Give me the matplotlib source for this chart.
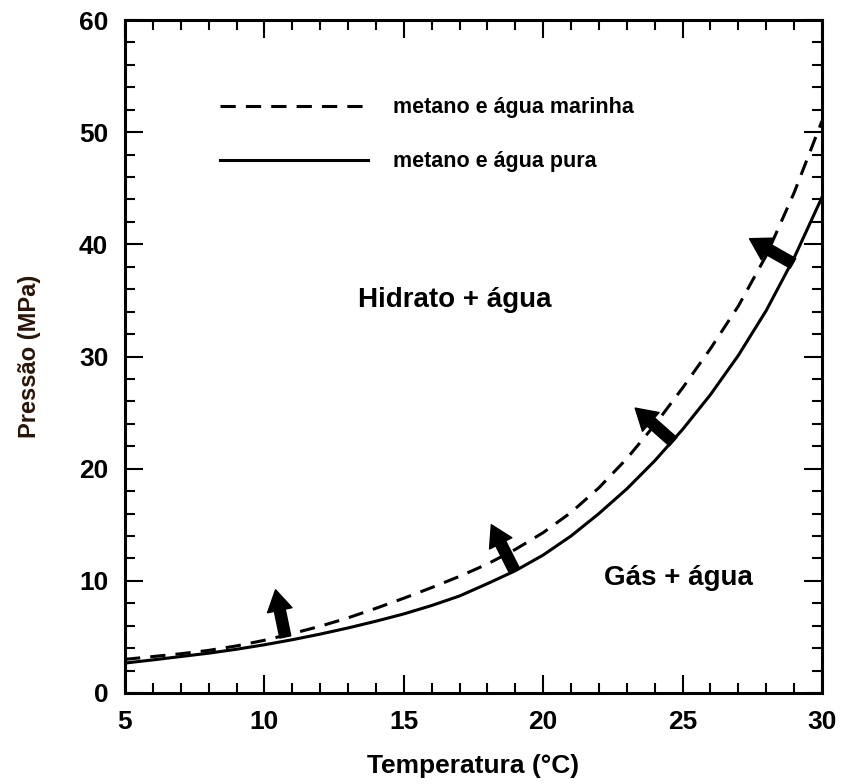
import matplotlib
matplotlib.use("Agg")
import matplotlib.pyplot as plt
from matplotlib.ticker import MultipleLocator

plt.rcParams['font.family'] = ['Liberation Sans', 'DejaVu Sans']

temperatura = [5, 6, 7, 8, 9, 10, 11, 12, 13, 14, 15, 16, 17, 18, 19, 20,
               21, 22, 23, 24, 25, 26, 27, 28, 29, 30]
p_pura = [2.67, 2.95, 3.25, 3.55, 3.9, 4.3, 4.75, 5.25, 5.8, 6.4, 7.05, 7.8,
          8.65, 9.75, 10.9, 12.3, 14.0, 16.0, 18.2, 20.7, 23.5, 26.6, 30.1,
          34.1, 38.8, 44.2]
p_marinha = [3.0, 3.25, 3.5, 3.8, 4.2, 4.7, 5.3, 5.95, 6.7, 7.55, 8.45, 9.4,
             10.4, 11.5, 12.8, 14.3, 16.1, 18.3, 20.9, 23.9, 27.2, 30.7, 34.5,
             39.0, 44.6, 51.0]

label_marinha = "metano e água marinha"
label_pura = "metano e água pura"

# arrows: tail (on pure-water curve) -> head
arrow_tail_T = [10.75, 18.95, 24.66, 28.96]
arrow_tail_P = [5.0, 11.0, 22.4, 38.3]
arrow_head_T = [10.4, 18.14, 23.3, 27.4]
arrow_head_P = [9.2, 15.0, 25.4, 40.5]

fig = plt.figure(figsize=(8.46, 7.84), dpi=100)
ax = fig.add_axes([125/846, 1-693/784, (822-125)/846, (693-20)/784])

ax.plot(temperatura, p_marinha, color='black', lw=2.2, ls=(0, (5, 3.3)),
        label=label_marinha)
ax.plot(temperatura, p_pura, color='black', lw=2.2, label=label_pura)

for t0, p0, t1, p1 in zip(arrow_tail_T, arrow_tail_P, arrow_head_T, arrow_head_P):
    ax.annotate('', xy=(t1, p1), xytext=(t0, p0),
                arrowprops=dict(arrowstyle='simple,head_length=15,head_width=18,tail_width=8',
                                mutation_scale=1, color='black', shrinkA=0, shrinkB=0))

ax.text(16.84, 35.0, "Hidrato + água", fontsize=20, fontweight='bold',
        ha='center', va='center')
ax.text(24.84, 10.25, "Gás + água", fontsize=20, fontweight='bold',
        ha='center', va='center')

ax.set_xlim(5, 30)
ax.set_ylim(0, 60)
ax.xaxis.set_major_locator(MultipleLocator(5))
ax.xaxis.set_minor_locator(MultipleLocator(1))
ax.yaxis.set_major_locator(MultipleLocator(10))
ax.yaxis.set_minor_locator(MultipleLocator(2))
ax.tick_params(which='both', direction='in', top=True, right=True, width=1.5)
ax.tick_params(which='major', length=13, pad=12, labelsize=19)
ax.tick_params(which='minor', length=7)
for lab in ax.get_xticklabels() + ax.get_yticklabels():
    lab.set_fontweight('bold')
for sp in ax.spines.values():
    sp.set_linewidth(2.2)

ax.set_xlabel("Temperatura (°C)", fontsize=19, fontweight='bold', labelpad=15)
ax.set_ylabel("Pressão (MPa)", fontsize=17, fontweight='bold', color='#2a1405',
              labelpad=27)

leg = ax.legend(loc='upper left', bbox_to_anchor=(0.109, 0.914), frameon=False,
                handlelength=6.84, handletextpad=1.2, labelspacing=1.53,
                prop={'size': 15.5, 'weight': 'bold'})

fig.savefig("out.png", dpi=100)
